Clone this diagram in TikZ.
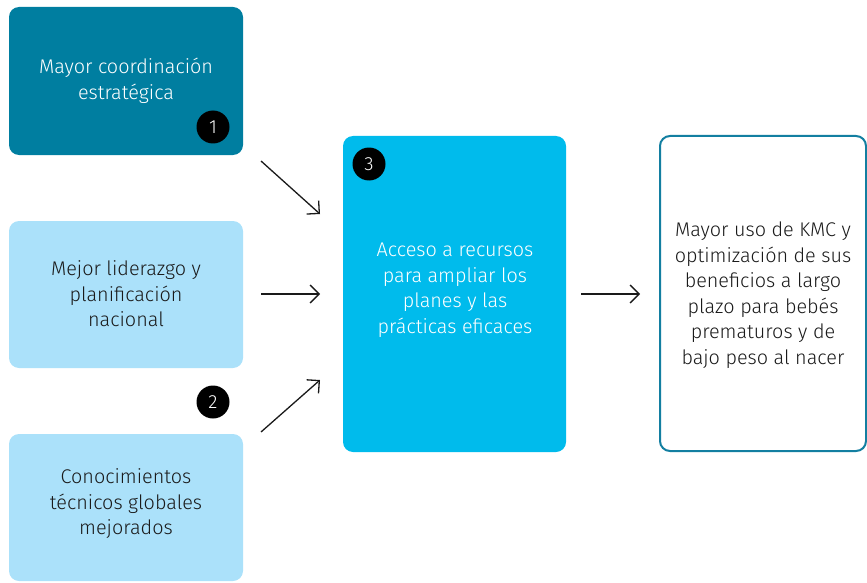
\documentclass[tikz,border=0pt]{standalone}
\usepackage{fontspec}
\setmainfont{Fira Sans}[UprightFont=* Light]
\usetikzlibrary{arrows.meta}
\definecolor{darkteal}{HTML}{007EA0}
\definecolor{lightblue}{HTML}{ABE1FA}
\definecolor{midblue}{HTML}{00BBEC}
\definecolor{bordert}{HTML}{137FA1}
\definecolor{txt}{HTML}{1A1A1A}
\tikzset{
  box/.style={rounded corners=10pt, inner sep=0pt, outer sep=0pt},
  lbl/.style={align=center, font=\fontsize{19.8}{25.5}\selectfont, inner sep=0pt},
  badge/.style={circle, fill=black, minimum size=33pt, inner sep=0pt, text=white, font=\fontsize{19}{20}\selectfont},
  arr/.style={line width=1.3pt, -{Straight Barb[length=9pt,width=18pt,line width=1.3pt]}, txt}
}
\begin{document}
\begin{tikzpicture}[x=1pt,y=-1pt]
\useasboundingbox (0,0) rectangle (867,583);
% boxes
\draw[box, fill=darkteal, draw=none] (9,7) rectangle (243,155);
\node[lbl, text=white] (t1) at (126,81) {Mayor coordinación\\estratégica};
\draw[box, fill=lightblue, draw=none] (9,221) rectangle (243,368);
\node[lbl, text=txt] (t2) at (126,294) {Mejor liderazgo y\\planificación\\nacional};
\draw[box, fill=lightblue, draw=none] (9,434) rectangle (243,581);
\node[lbl, text=txt] (t3) at (126,504) {Conocimientos\\técnicos globales\\mejorados};
\draw[box, fill=midblue, draw=none] (343,136) rectangle (566,452);
\node[lbl, text=white] (tc) at (455,290) {Acceso a recursos\\para ampliar los\\planes y las\\prácticas eficaces};
\draw[box, fill=white, draw=bordert, line width=2pt] (660,136) rectangle (866,451);
\node[lbl, text=txt] (tr) at (763,295) {Mayor uso de KMC y\\optimización de sus\\beneficios a largo\\plazo para bebés\\prematuros y de\\bajo peso al nacer};
% badges
\node[badge] (b1) at (213,127) {1};
\node[badge] (b2) at (213,402) {2};
\node[badge] (b3) at (369,164) {3};
% arrow endpoints
\coordinate (a1s) at (261,161);
\coordinate (a1e) at (320,214);
\coordinate (a2s) at (261,294);
\coordinate (a2e) at (320,294);
\coordinate (a3s) at (261,432);
\coordinate (a3e) at (320,380);
\coordinate (a4s) at (581,294);
\coordinate (a4e) at (640,294);
\draw[arr] (a1s) -- (a1e);
\draw[arr] (a2s) -- (a2e);
\draw[arr] (a3s) -- (a3e);
\draw[arr] (a4s) -- (a4e);
\end{tikzpicture}
\end{document}
